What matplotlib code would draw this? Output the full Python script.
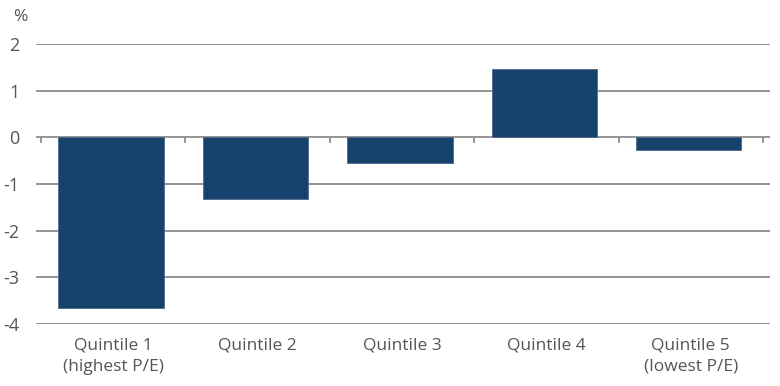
import matplotlib.pyplot as plt
import numpy as np

categories = ['Quintile 1\n(highest P/E)', 'Quintile 2', 'Quintile 3',
              'Quintile 4', 'Quintile 5\n(lowest P/E)']
values = [-3.67, -1.33, -0.54, 1.46, -0.28]
yticks = [2, 1, 0, -1, -2, -3, -4]

bar_color = '#15436d'
grid_color = '#8c8c8c'
text_color = '#555555'

plt.rcParams['font.family'] = ['Open Sans', 'DejaVu Sans']

fig = plt.figure(figsize=(7.8, 3.86), dpi=100)
ax = fig.add_axes([36 / 780, 1 - 324 / 386, 734 / 780, 280 / 386])

x = np.arange(len(categories))
for yv in yticks:
    ax.axhline(yv, color=grid_color, lw=1.3, zorder=1)
ax.bar(x - 0.015, values, width=0.73, color=bar_color, edgecolor='#50698a', lw=0.6, zorder=3)

# small ticks hanging below the zero line at category boundaries
bounds = np.arange(len(categories) + 1) - 0.5
ax.vlines(bounds, 0, -0.13, color=grid_color, lw=1.3, zorder=2)

ax.set_xlim(-0.5 - 5 / 144.4, 4.5 + 7 / 144.4)
ax.set_yticks(yticks)
ax.set_yticklabels([str(v) for v in yticks])
ax.set_xticks(x)
ax.set_xticklabels(categories, linespacing=1.4)
ax.tick_params(axis='y', length=0, pad=12, labelsize=13, colors=text_color)
ax.tick_params(axis='x', length=0, pad=10, labelsize=12.5, colors=text_color)
for s in ax.spines.values():
    s.set_visible(False)
ax.set_ylim(-4.005, 2.005)

fig.text(13 / 780, 1 - 17 / 386, '%', fontsize=12.5, color=text_color, va='center')

fig.savefig('out.png', dpi=100)
